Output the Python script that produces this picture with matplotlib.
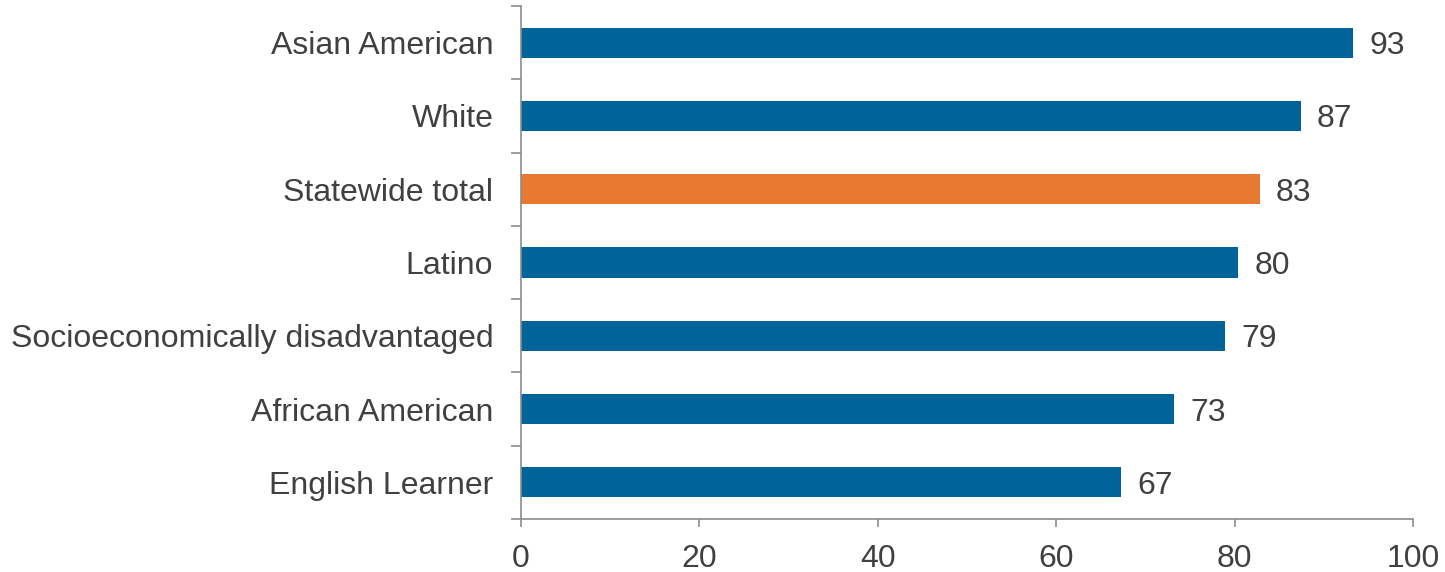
import numpy as np
import matplotlib.pyplot as plt

plt.rcParams['font.family'] = ['Liberation Sans', 'DejaVu Sans']

groups = ["English Learner", "African American", "Socioeconomically disadvantaged",
          "Latino", "Statewide total", "White", "Asian American"]
values = [67.3, 73.2, 78.9, 80.4, 82.8, 87.4, 93.3]
highlight = "Statewide total"

blue = "#00649a"
orange = "#e87931"
text_col = "#404040"
axis_col = "#8c8c8c"

fig = plt.figure(figsize=(14.45, 5.72), dpi=100)
ax = fig.add_axes([0.3606, 0.0927, 0.9779 - 0.3606, 0.9895 - 0.0927])

pos = np.arange(len(groups))
colors = [orange if g == highlight else blue for g in groups]
ax.barh(pos, values, height=0.41, color=colors)

for p, v in zip(pos, values):
    ax.text(v + 1.8, p, f"{v:.0f}", va='center_baseline', ha='left', fontsize=23, color=text_col)

ax.set_xlim(0, 100)
ax.set_ylim(-0.5, len(groups) - 0.5)
ax.set_xticks(np.arange(0, 101, 20))

# category labels centred on bars, ticks on the boundaries
ax.set_yticks(np.arange(-0.5, len(groups), 1.0))
ax.set_yticklabels([])
ax.set_yticks(pos, minor=True)
ax.set_yticklabels(groups, minor=True)
ax.tick_params(axis='y', which='minor', length=0, pad=20, labelsize=23, labelcolor=text_col)
ax.tick_params(axis='y', which='major', length=7, width=1.2, color=axis_col, direction='out')
ax.tick_params(axis='x', length=6, width=1.2, color=axis_col, pad=12, labelsize=23, labelcolor=text_col)

for s in ['top', 'right']:
    ax.spines[s].set_visible(False)
for s in ['left', 'bottom']:
    ax.spines[s].set_color(axis_col)
    ax.spines[s].set_linewidth(1.2)

fig.savefig("out.png", dpi=100)
